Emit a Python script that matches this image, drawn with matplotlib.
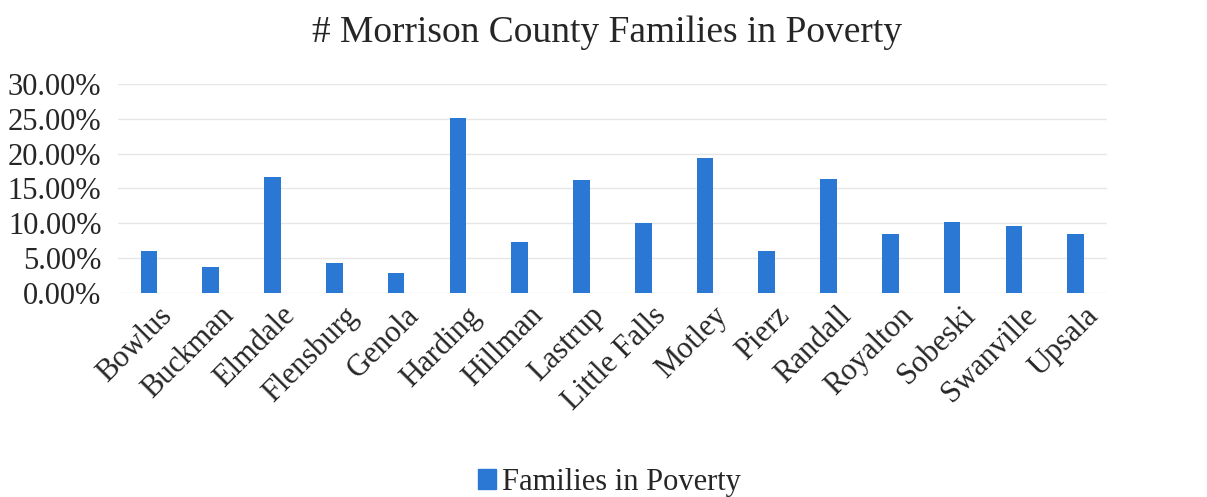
import matplotlib
matplotlib.use("Agg")
import matplotlib.pyplot as plt
from matplotlib.patches import Patch
from matplotlib.ticker import FuncFormatter
from matplotlib.transforms import ScaledTranslation

categories = ["Bowlus", "Buckman", "Elmdale", "Flensburg", "Genola", "Harding",
              "Hillman", "Lastrup", "Little Falls", "Motley", "Pierz", "Randall",
              "Royalton", "Sobeski", "Swanville", "Upsala"]
values = [6.0, 3.7, 16.7, 4.3, 2.8, 25.1, 7.3, 16.2, 10.0, 19.3, 6.0, 16.3,
          8.4, 10.1, 9.6, 8.4]
series_name = "Families in Poverty"
title = "# Morrison County Families in Poverty"

plt.rcParams['font.family'] = ['Liberation Serif', 'DejaVu Serif']
txt = '#262626'
bar_color = '#2B78D4'

fig = plt.figure(figsize=(12.07, 4.97), dpi=100)
ax = fig.add_axes([0.0978, 0.411, 0.819, 0.42])

x = range(len(categories))
ax.bar(x, values, width=0.27, color=bar_color, zorder=3)
ax.set_xlim(-0.5, len(categories) - 0.5)
ax.set_ylim(0, 30)
ax.set_yticks([0, 5, 10, 15, 20, 25, 30])
ax.yaxis.set_major_formatter(FuncFormatter(lambda v, p: f"{v:.2f}%"))
ax.grid(axis='y', color='#e6e6e6', linewidth=1, zorder=0)
for s in ax.spines.values():
    s.set_visible(False)
ax.tick_params(axis='both', length=0, labelsize=22, colors=txt)
ax.tick_params(axis='y', pad=12)
ax.tick_params(axis='x', pad=6)
ax.set_xticks(list(x))
ax.set_xticklabels(categories, rotation=45, ha='right', va='top',
                   rotation_mode='anchor')
off = ScaledTranslation(6 / 72, 0, fig.dpi_scale_trans)
for lab in ax.get_xticklabels():
    lab.set_transform(lab.get_transform() + off)

fig.text(0.503, 0.935, title, ha='center', va='center', fontsize=27, color=txt)

fig.legend(handles=[Patch(color=bar_color, label=series_name)], loc='center',
           bbox_to_anchor=(0.505, 0.03), frameon=False, fontsize=22,
           handlelength=0.6, handleheight=0.6, handletextpad=0.2, labelcolor=txt)

fig.savefig("out.png", dpi=100, facecolor='white')
